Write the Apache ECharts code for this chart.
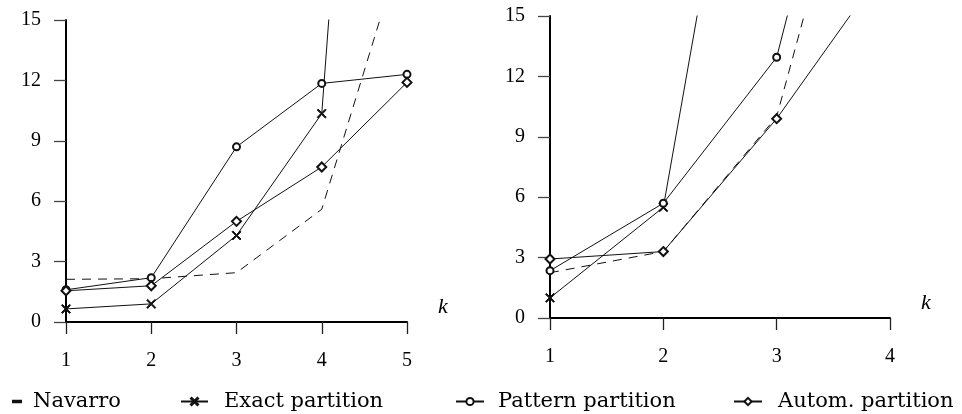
<!DOCTYPE html>
<html>
<head>
<meta charset="utf-8">
<script src="https://cdn.jsdelivr.net/npm/echarts@6/dist/echarts.min.js"></script>
<style>
  html, body { margin: 0; padding: 0; background: #fff; }
  #chart { width: 962px; height: 414px; }
</style>
</head>
<body>
<div id="chart"></div>
<script>
// left panel: k = 1..5
const kLeft = [1, 2, 3, 4, 5];
const navarroLeft = [2.12, 2.15, 2.45, 5.6, 19.4];
const exactLeft = [0.65, 0.9, 4.3, 10.35, 67];
const patternLeft = [1.6, 2.2, 8.7, 11.85, 12.3];
const automLeft = [1.55, 1.8, 5.0, 7.7, 11.9];

// right panel: k = 1..4
const kRight = [1, 2, 3, 4];
const navarroRight = [2.25, 3.3, 10.0, 30.7];
const exactRight = [1.0, 5.5, 37.4, 70];
const patternRight = [2.35, 5.7, 12.95, 34.9];
const automRight = [2.93, 3.3, 9.9, 17.8];

const yMin = 0, yMax = 15, yStep = 3;
const names = ['Navarro', 'Exact partition', 'Pattern partition', 'Autom. partition'];

const serif = 'Liberation Serif';
const crossPath = 'path://M0,1L1,0L5,4L9,0L10,1L6,5L10,9L9,10L5,6L1,10L0,9L4,5Z';

function pairs(ks, vals) {
    return ks.map((k, i) => [k, vals[i]]);
}

function hideAbove(size) {
    return function (v) { return v[1] > yMax ? 0 : size; };
}

const styles = [
    { symbol: 'none', size: 0, dash: [9, 7] },
    { symbol: crossPath, size: 9, dash: 'solid' },
    { symbol: 'emptyCircle', size: 7, dash: 'solid' },
    { symbol: 'emptyDiamond', size: 9, dash: 'solid' }
];

function makeSeries(idx, lists, ks) {
    return lists.map((vals, i) => ({
        name: names[i],
        type: 'line',
        xAxisIndex: idx,
        yAxisIndex: idx,
        data: pairs(ks, vals),
        symbol: styles[i].symbol,
        symbolSize: hideAbove(styles[i].size),
        showSymbol: styles[i].symbol !== 'none',
        clip: true,
        lineStyle: { color: '#111', width: 1, type: styles[i].dash },
        itemStyle: { color: '#111', borderColor: '#111', borderWidth: 1 }
    }));
}

function xAxis(idx, max) {
    return {
        type: 'value', gridIndex: idx, min: 1, max: max, interval: 1,
        name: 'k', nameLocation: 'end', nameGap: 31,
        nameTextStyle: { fontFamily: serif, fontStyle: 'italic', fontSize: 22, color: '#000',
            verticalAlign: 'bottom', padding: [0, 0, 4, 0] },
        axisLine: { lineStyle: { color: '#000', width: 2 } },
        axisTick: { length: 12, lineStyle: { color: '#222', width: 1.3 } },
        axisLabel: { margin: 29, fontFamily: serif, fontSize: 20, color: '#000' },
        splitLine: { show: false }
    };
}

function yAxis(idx) {
    return {
        type: 'value', gridIndex: idx, min: yMin, max: yMax, interval: yStep,
        axisLine: { show: true, lineStyle: { color: '#000', width: 2 } },
        axisTick: { show: true, length: 12, lineStyle: { color: '#444', width: 1.3 } },
        axisLabel: { margin: 25, fontFamily: serif, fontSize: 20, color: '#000' },
        splitLine: { show: false }
    };
}

const legendText = { fontFamily: 'DejaVu Serif', fontSize: 21, color: '#000' };
function legend(item, left, w, h, gap) {
    return {
        data: [item], left: left, top: 386, itemWidth: w, itemHeight: h,
        itemGap: 0, selectedMode: false,
        textStyle: Object.assign({ padding: [0, 0, 0, gap] }, legendText)
    };
}

const option = {
    animation: false,
    backgroundColor: '#fff',
    grid: [
        { left: 66, top: 20, width: 341, height: 302 },
        { left: 550, top: 16, width: 340, height: 302 }
    ],
    xAxis: [xAxis(0, 5), xAxis(1, 4)],
    yAxis: [yAxis(0), yAxis(1)],
    legend: [
        legend({ name: 'Navarro', icon: 'rect' }, 7, 8, 1.5, 7),
        legend('Exact partition', 175, 27, 9, 11),
        legend('Pattern partition', 450, 28, 9, 9),
        legend('Autom. partition', 728, 28, 9, 11)
    ],
    series: makeSeries(0, [navarroLeft, exactLeft, patternLeft, automLeft], kLeft)
        .concat(makeSeries(1, [navarroRight, exactRight, patternRight, automRight], kRight))
};

const chart = echarts.init(document.getElementById('chart'));
chart.setOption(option);
</script>
</body>
</html>
